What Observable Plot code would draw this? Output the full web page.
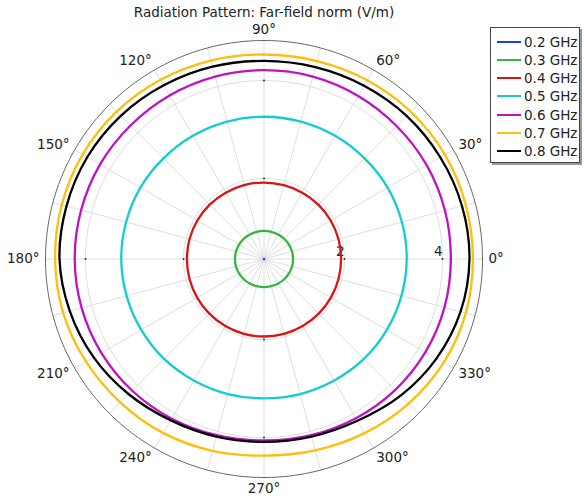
<!DOCTYPE html>
<html><head><meta charset="utf-8">
<script src="https://cdn.jsdelivr.net/npm/d3@7"></script>
<script src="https://cdn.jsdelivr.net/npm/@observablehq/plot@0.6"></script>
<style>
body{margin:0;background:#fff;font-family:"DejaVu Sans",sans-serif;color:#222;}
#wrap{position:relative;width:584px;height:500px;overflow:hidden;}
#title{position:absolute;left:0;top:4px;width:528px;text-align:center;font-size:13.5px;line-height:16px;color:#222;white-space:nowrap;}
#legend{position:absolute;left:490px;top:27px;width:90px;height:136px;border:1px solid #444;background:#fff;box-shadow:2px 2px 0 #999;box-sizing:border-box;}
.row{position:absolute;left:0;height:18px;display:flex;align-items:center;font-size:13.5px;color:#222;white-space:nowrap;}
.sw{display:inline-block;flex:none;width:24px;height:2px;margin-left:6px;margin-right:3px;}
#chart{position:absolute;left:0;top:0;}
</style></head><body>
<div id="wrap"><div id="chart"></div><div id="title"></div><div id="legend"></div></div>
<script>
// ---- data ----
const titleText = "Radiation Pattern: Far-field norm (V/m)";
const seriesNames = ["0.2 GHz","0.3 GHz","0.4 GHz","0.5 GHz","0.6 GHz","0.7 GHz","0.8 GHz"];
const seriesColors = ["#1b3cff","#33b540","#d81515","#12cdd0","#c012c4","#ffbe0a","#000000"];
const angles = [0,15,30,45,60,75,90,105,120,135,150,165,180,195,210,225,240,255,270,285,300,315,330,345];
const v02 = [0.36,0.36,0.36,0.36,0.36,0.36,0.36,0.36,0.36,0.36,0.36,0.36,0.36,0.36,0.36,0.36,0.36,0.36,0.36,0.36,0.36,0.36,0.36,0.36];
const v03 = [0.950,0.949,0.946,0.941,0.936,0.932,0.931,0.932,0.936,0.941,0.946,0.949,0.950,0.949,0.946,0.941,0.936,0.932,0.931,0.932,0.936,0.941,0.946,0.949];
const v04 = [1.930,1.930,1.928,1.925,1.921,1.918,1.917,1.918,1.921,1.925,1.928,1.930,1.930,1.931,1.933,1.935,1.937,1.938,1.939,1.938,1.937,1.935,1.933,1.931];
const v05 = [3.27,3.27,3.27,3.26,3.26,3.26,3.26,3.26,3.26,3.26,3.27,3.27,3.27,3.26,3.25,3.24,3.22,3.21,3.20,3.21,3.22,3.24,3.25,3.26];
const v06 = [4.17,4.18,4.19,4.19,4.20,4.21,4.21,4.21,4.21,4.21,4.22,4.22,4.22,4.21,4.19,4.16,4.12,4.08,4.06,4.08,4.11,4.14,4.16,4.17];
const v07 = [4.62,4.62,4.62,4.60,4.57,4.54,4.53,4.55,4.58,4.61,4.63,4.63,4.62,4.60,4.55,4.50,4.46,4.41,4.37,4.40,4.46,4.53,4.59,4.62];
const v08 = [4.55,4.54,4.51,4.48,4.44,4.41,4.40,4.42,4.45,4.49,4.52,4.53,4.53,4.46,4.37,4.26,4.16,4.11,4.09,4.11,4.17,4.30,4.42,4.51];
const radialTicks = [2, 4];
const angleLabels = [0,30,60,90,120,150,180,210,240,270,300,330];
const gridAngles = d3.range(0, 360, 15);
const rMin = 0.357, rMax = 4.816;

// ---- layout settings ----
const W = 584, H = 500, R = 218.5, cx = 263.5, cy = 258.5;
const rs = d3.scaleLinear([rMin, rMax], [0, 1]);
const rad = a => a * Math.PI / 180;

const allValues = [v02, v03, v04, v05, v06, v07, v08];
const curves = [];
allValues.forEach((vals, i) => {
  vals.forEach((v, j) => curves.push({series: seriesNames[i], angle: angles[j], value: v}));
});
const px = d => rs(d.value) * Math.cos(rad(d.angle));
const py = d => rs(d.value) * Math.sin(rad(d.angle));

const circlePts = k => d3.range(0, 361, 1).map(a => ({a, k}));
const gridCircles = radialTicks.flatMap(t => circlePts(rs(t)));
const outer = circlePts(1);
const tickMarks = radialTicks.flatMap(t => [0, 90, 180, 270].map(a => ({a, k: rs(t)})));

const labData = angleLabels.map(a => ({a, c: Math.cos(rad(a)), s: Math.sin(rad(a))}));
const lx = d => d.c * (1 + 6 / R);
const ly = d => d.s * (1 + 11 / R);

const plot = Plot.plot({
  width: W, height: H,
  margin: 0,
  x: {domain: [-cx / R, (W - cx) / R], axis: null},
  y: {domain: [-(H - cy) / R, cy / R], axis: null},
  color: {domain: seriesNames, range: seriesColors},
  style: {fontFamily: "DejaVu Sans, sans-serif", fontSize: "13.5px", background: "transparent"},
  marks: [
    Plot.link(gridAngles, {x1: 0, y1: 0, x2: a => Math.cos(rad(a)), y2: a => Math.sin(rad(a)), stroke: "#dedede", strokeWidth: 1}),
    Plot.line(gridCircles, {x: d => d.k * Math.cos(rad(d.a)), y: d => d.k * Math.sin(rad(d.a)), z: "k", stroke: "#dedede", strokeWidth: 1}),
    Plot.line(outer, {x: d => Math.cos(rad(d.a)), y: d => Math.sin(rad(d.a)), stroke: "#555", strokeWidth: 0.9}),
    Plot.dot(tickMarks, {x: d => d.k * Math.cos(rad(d.a)), y: d => d.k * Math.sin(rad(d.a)), r: 1, fill: "#333", stroke: null}),
    Plot.text(radialTicks, {x: t => rs(t), y: 0, text: t => String(t), textAnchor: "end", lineAnchor: "bottom", dy: -3, fill: "#222", fontSize: 13.5}),
    Plot.text(labData.filter(d => d.c > 0.01), {x: lx, y: ly, text: d => d.a + "°", textAnchor: "start", fill: "#222", fontSize: 13.5}),
    Plot.text(labData.filter(d => Math.abs(d.c) <= 0.01), {x: lx, y: ly, text: d => d.a + "°", textAnchor: "middle", fill: "#222", fontSize: 13.5}),
    Plot.text(labData.filter(d => d.c < -0.01), {x: lx, y: ly, text: d => d.a + "°", textAnchor: "end", fill: "#222", fontSize: 13.5}),
    Plot.line(curves, {x: px, y: py, z: "series", stroke: "series", strokeWidth: 2.3, curve: "catmull-rom-closed"})
  ]
});
document.getElementById("chart").appendChild(plot);
document.getElementById("title").textContent = titleText;

const leg = document.getElementById("legend");
seriesNames.forEach((n, i) => {
  const row = document.createElement("div");
  row.className = "row";
  row.style.top = Math.round(4.7 + i * 18.2) + "px";
  const sw = document.createElement("span");
  sw.className = "sw";
  sw.style.background = seriesColors[i];
  const tx = document.createElement("span");
  tx.textContent = n;
  row.appendChild(sw); row.appendChild(tx);
  leg.appendChild(row);
});
</script>
</body></html>
